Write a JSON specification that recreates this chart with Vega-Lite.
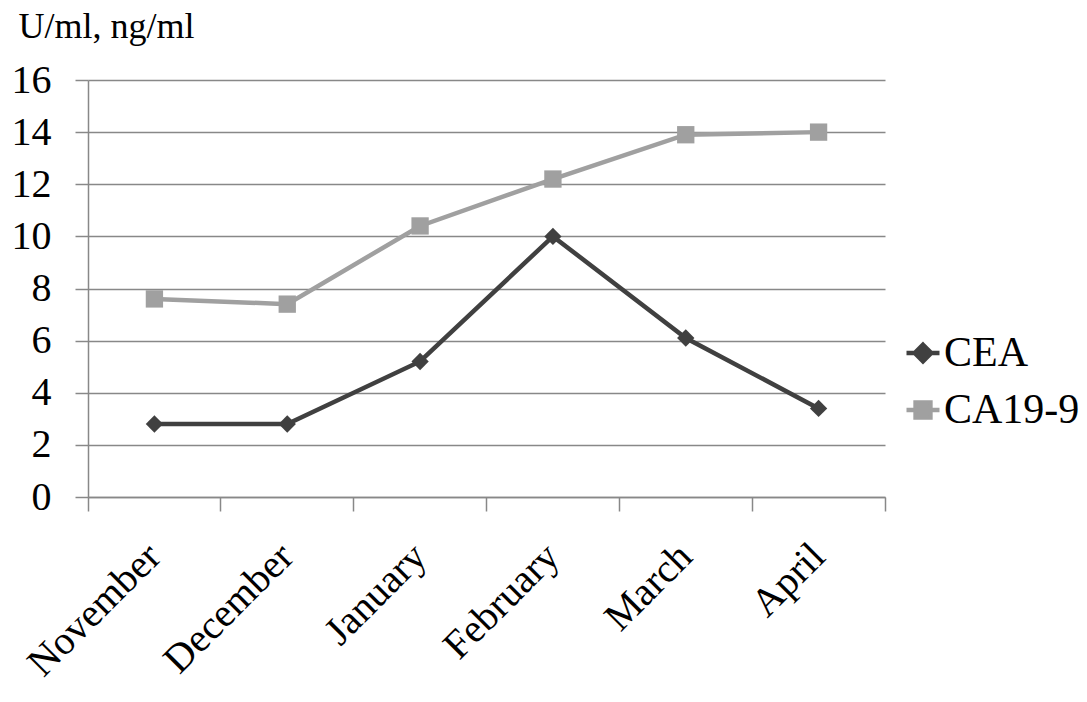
{
  "$schema": "https://vega.github.io/schema/vega-lite/v6.json",
  "width": 797,
  "height": 417,
  "autosize": {"type": "none"},
  "padding": {"left": 88, "top": 80, "right": 202, "bottom": 205},
  "background": "white",
  "config": {
    "view": {"stroke": null},
    "font": "Liberation Serif"
  },
  "data": {
    "values": [
      {"month": "November", "series": "CEA", "value": 2.8},
      {"month": "December", "series": "CEA", "value": 2.8},
      {"month": "January", "series": "CEA", "value": 5.2},
      {"month": "February", "series": "CEA", "value": 10},
      {"month": "March", "series": "CEA", "value": 6.1},
      {"month": "April", "series": "CEA", "value": 3.4},
      {"month": "November", "series": "CA19-9", "value": 7.6},
      {"month": "December", "series": "CA19-9", "value": 7.4},
      {"month": "January", "series": "CA19-9", "value": 10.4},
      {"month": "February", "series": "CA19-9", "value": 12.2},
      {"month": "March", "series": "CA19-9", "value": 13.9},
      {"month": "April", "series": "CA19-9", "value": 14.0}
    ]
  },
  "encoding": {
    "x": {
      "field": "month",
      "type": "nominal",
      "sort": ["November", "December", "January", "February", "March", "April"],
      "scale": {"type": "band", "paddingInner": 0, "paddingOuter": 0},
      "axis": {
        "title": null,
        "bandPosition": 1,
        "tickExtra": true,
        "labelOffset": 0,
        "labelAngle": -45,
        "labelAlign": "right",
        "labelBaseline": "middle",
        "labelPadding": 39,
        "labelFontSize": 40,
        "labelColor": "black",
        "labelFont": "Liberation Serif",
        "tickSize": 14,
        "tickColor": "#888888",
        "tickWidth": 1.5,
        "domainColor": "#888888",
        "domainWidth": 1.5,
        "grid": false
      }
    },
    "y": {
      "field": "value",
      "type": "quantitative",
      "scale": {"domain": [0, 16], "nice": false},
      "axis": {
        "title": "U/ml, ng/ml",
        "titleAngle": 0,
        "titleAlign": "left",
        "titleBaseline": "alphabetic",
        "titleX": -70,
        "titleY": -43,
        "titleFontSize": 36,
        "titleFontWeight": "normal",
        "titleFont": "Liberation Serif",
        "titleColor": "black",
        "values": [0, 2, 4, 6, 8, 10, 12, 14, 16],
        "labelFontSize": 40,
        "labelFont": "Liberation Serif",
        "labelColor": "black",
        "labelPadding": 24,
        "tickSize": 13,
        "tickColor": "#888888",
        "tickWidth": 1.5,
        "domainColor": "#888888",
        "domainWidth": 1.5,
        "grid": true,
        "gridColor": "#888888",
        "gridWidth": 1.5
      }
    },
    "color": {
      "field": "series",
      "type": "nominal",
      "sort": ["CEA", "CA19-9"],
      "scale": {"domain": ["CEA", "CA19-9"], "range": ["#404040", "#a0a0a0"]},
      "legend": {
        "title": null,
        "orient": "none",
        "legendX": 814,
        "legendY": 252,
        "labelFontSize": 42,
        "labelFont": "Liberation Serif",
        "labelColor": "black",
        "labelOffset": 0,
        "rowPadding": 15,
        "symbolSize": 1089,
        "symbolStrokeWidth": 4.5,
        "symbolOpacity": 1,
        "encoding": {
          "symbols": {
            "shape": {"value": {"expr": "datum.value === 'CEA' ? 'M-1,0L1,0M0,-0.5L0.5,0L0,0.5L-0.5,0Z' : 'M-1,0L1,0M-0.45,-0.45L0.45,-0.45L0.45,0.45L-0.45,0.45Z'"}},
            "fill": {"value": {"expr": "datum.value === 'CEA' ? '#404040' : '#a0a0a0'"}},
            "stroke": {"value": {"expr": "datum.value === 'CEA' ? '#404040' : '#a0a0a0'"}},
            "strokeWidth": {"value": 4.5}
          }
        }
      }
    }
  },
  "layer": [
    {
      "mark": {"type": "line", "strokeWidth": 4.5},
      "encoding": {"detail": {"field": "series"}}
    },
    {
      "mark": {"type": "point", "filled": true, "opacity": 1},
      "encoding": {
        "shape": {
          "field": "series",
          "type": "nominal",
          "scale": {"domain": ["CA19-9", "CEA"], "range": ["square", "diamond"]},
          "legend": null
        },
        "size": {"value": 300}
      }
    }
  ]
}
